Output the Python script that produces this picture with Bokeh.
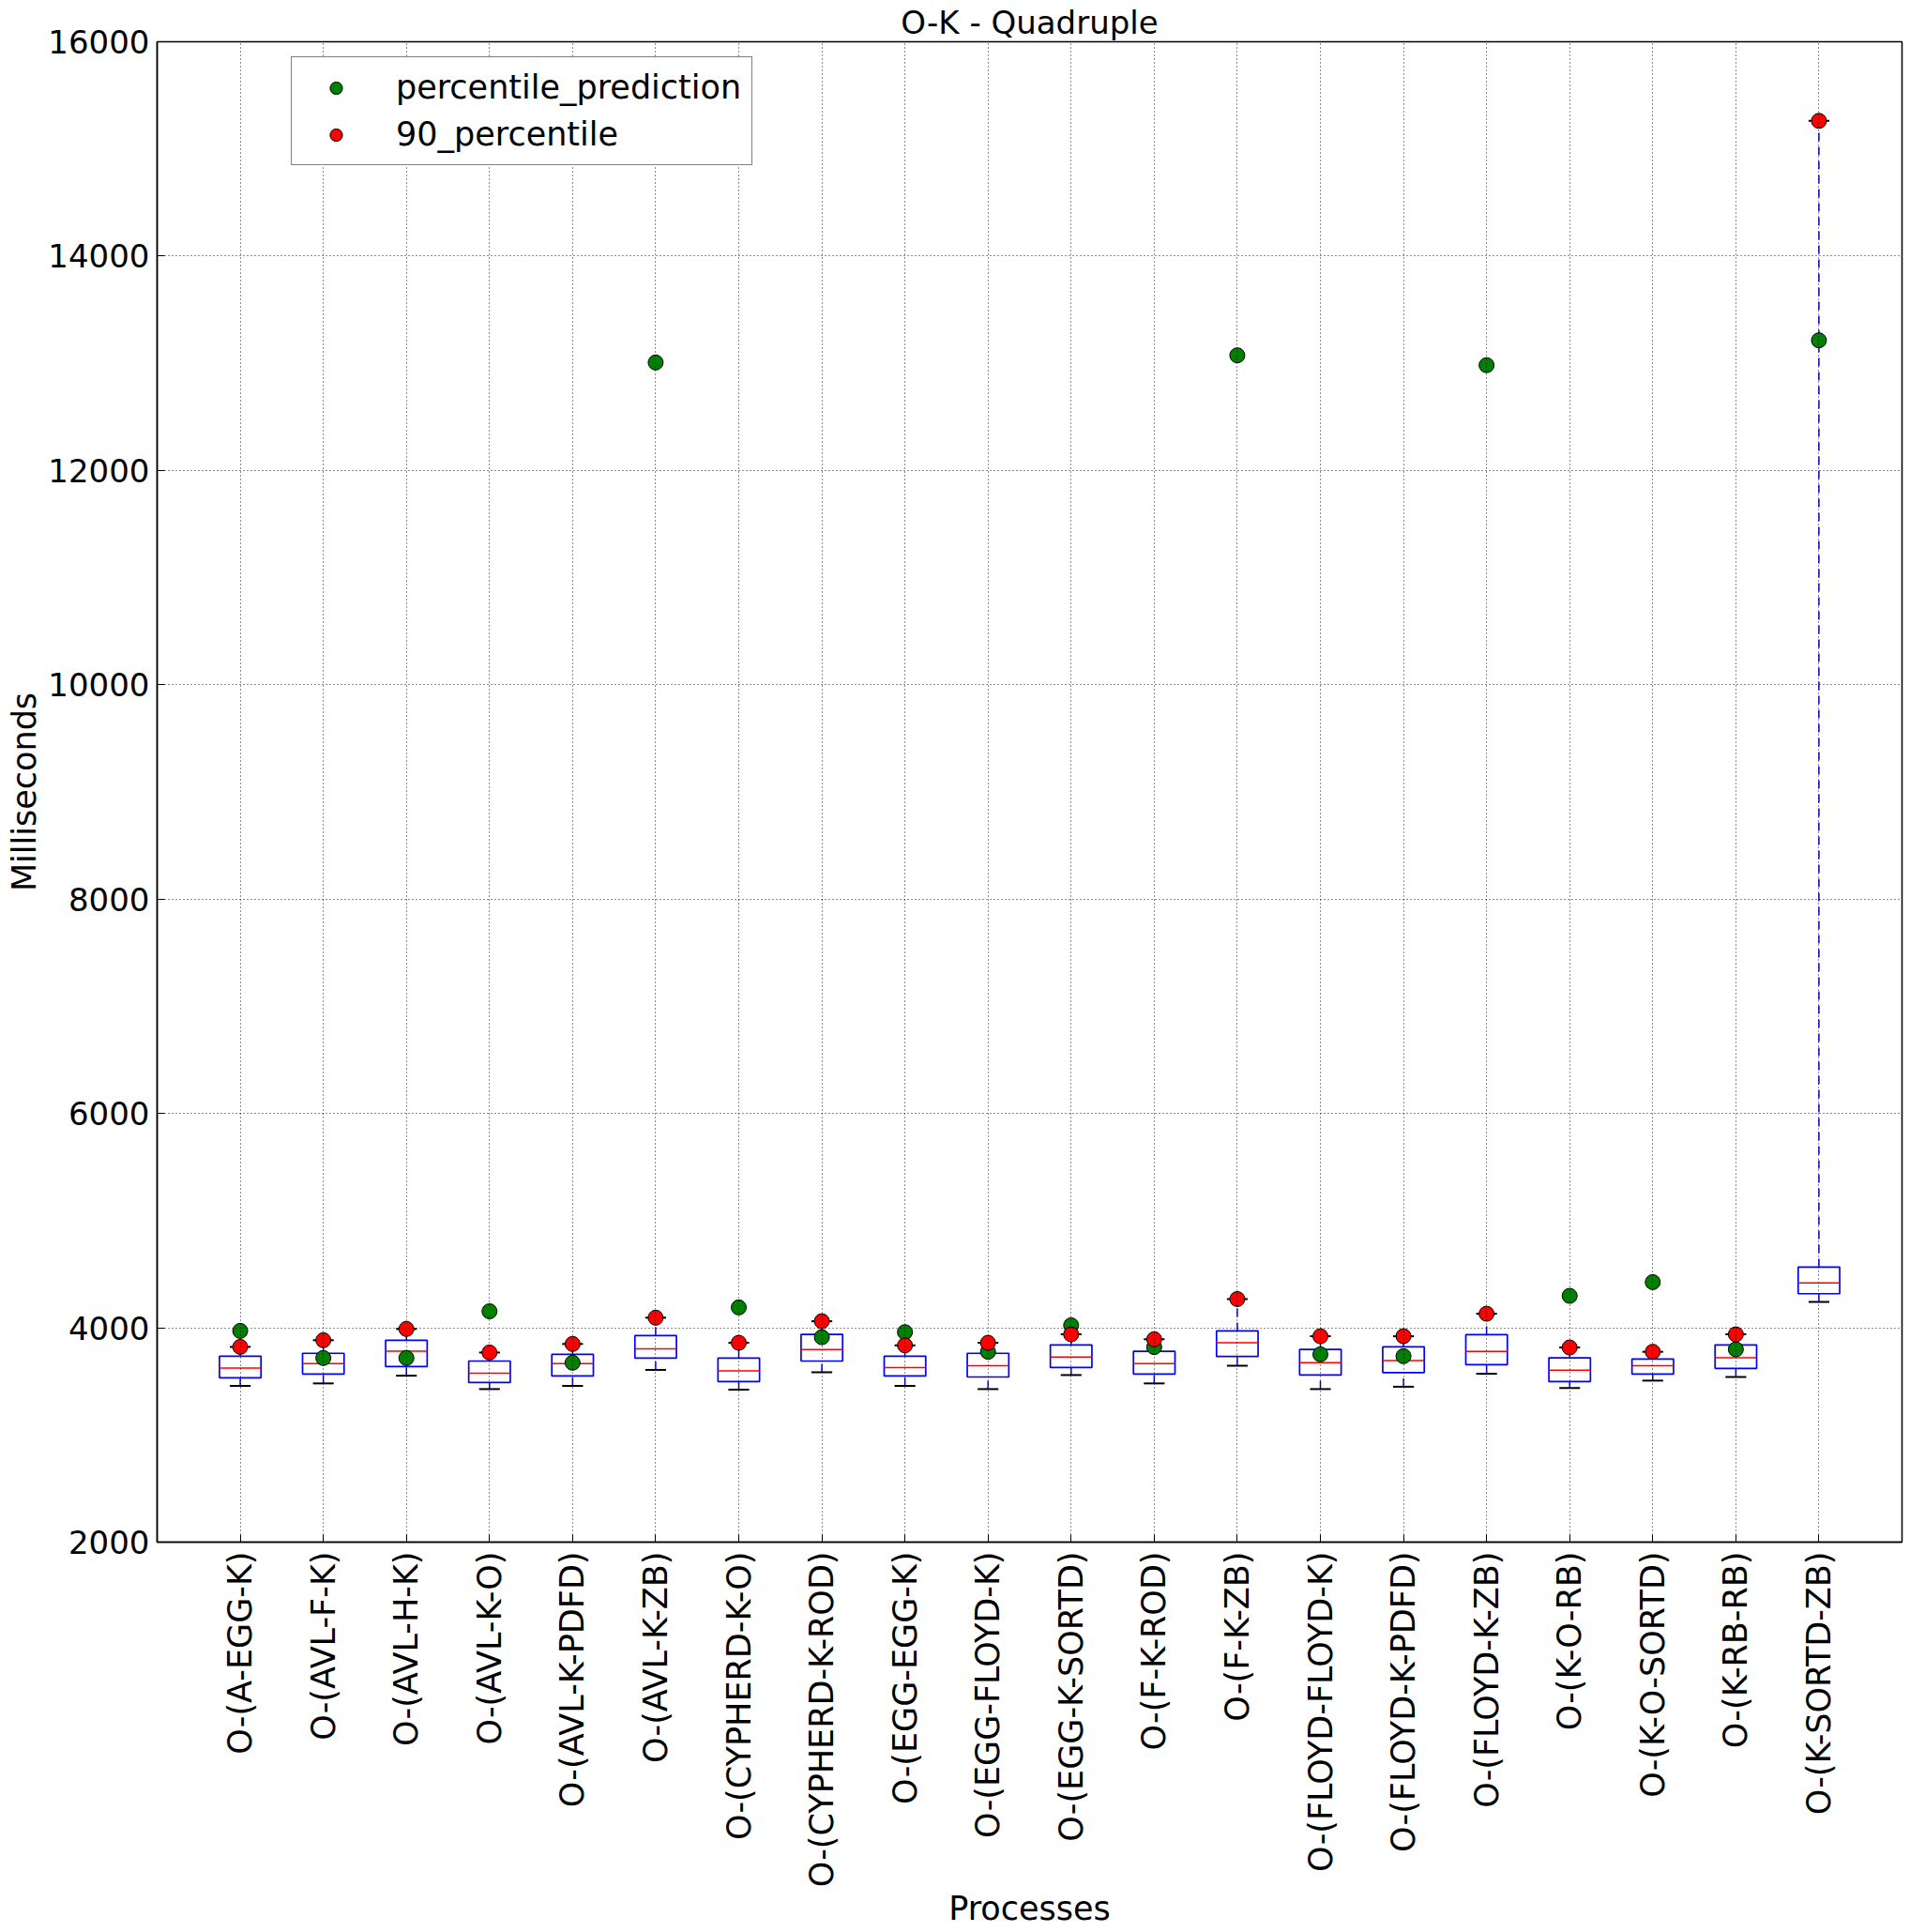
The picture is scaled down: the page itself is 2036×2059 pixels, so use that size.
import numpy as np
from bokeh.plotting import figure
from bokeh.models import Range1d, FixedTicker, Legend, LegendItem, ColumnDataSource
from bokeh.embed import file_html
from bokeh.resources import INLINE

categories = ["O-(A-EGG-K)", "O-(AVL-F-K)", "O-(AVL-H-K)", "O-(AVL-K-O)", "O-(AVL-K-PDFD)",
              "O-(AVL-K-ZB)", "O-(CYPHERD-K-O)", "O-(CYPHERD-K-ROD)", "O-(EGG-EGG-K)",
              "O-(EGG-FLOYD-K)", "O-(EGG-K-SORTD)", "O-(F-K-ROD)", "O-(F-K-ZB)",
              "O-(FLOYD-FLOYD-K)", "O-(FLOYD-K-PDFD)", "O-(FLOYD-K-ZB)", "O-(K-O-RB)",
              "O-(K-O-SORTD)", "O-(K-RB-RB)", "O-(K-SORTD-ZB)"]
whisker_low = [3458, 3481, 3553, 3428, 3458, 3607, 3423, 3585, 3458, 3428,
               3559, 3481, 3646, 3428, 3450, 3571, 3438, 3507, 3542, 4242]
q1 = [3534, 3569, 3638, 3489, 3550, 3718, 3499, 3690, 3550, 3541,
      3629, 3569, 3732, 3559, 3582, 3656, 3499, 3569, 3621, 4318]
median = [3624, 3665, 3781, 3576, 3665, 3804, 3598, 3796, 3629, 3646,
          3726, 3665, 3860, 3674, 3694, 3779, 3604, 3647, 3720, 4418]
q3 = [3735, 3762, 3884, 3690, 3752, 3927, 3718, 3939, 3735, 3762,
      3840, 3781, 3971, 3799, 3822, 3936, 3720, 3709, 3840, 4566]
p90 = [3822, 3884, 3989, 3769, 3849, 4094, 3860, 4061, 3836, 3860,
       3939, 3893, 4268, 3921, 3921, 4131, 3816, 3776, 3939, 15262]
prediction = [3971, 3718, 3718, 4154, 3674, 13007, 4190, 3912, 3959, 3776,
              4023, 3820, 13074, 3752, 3735, 12982, 4298, 4426, 3799, 13214]
y_ticks = [2000, 4000, 6000, 8000, 10000, 12000, 14000, 16000]

FONT = "DejaVu Sans"
pos = np.arange(1, len(categories) + 1)
box_w = 0.5
cap_w = 0.25

src = ColumnDataSource(dict(
    x=pos, lo=whisker_low, q1=q1, med=median, q3=q3, hi=p90, pred=prediction,
    bl=pos - box_w / 2, br=pos + box_w / 2,
    cl=pos - cap_w / 2, cr=pos + cap_w / 2,
))

p = figure(frame_width=1860, frame_height=1599,
           min_border_left=167, min_border_right=9, min_border_top=44, min_border_bottom=416,
           x_range=Range1d(0, 21), y_range=Range1d(2000, 16000),
           output_backend="svg", toolbar_location=None,
           title="O-K - Quadruple")

p.title.text_font = FONT
p.title.text_font_size = "34px"
p.title.text_font_style = "normal"
p.title.text_color = "black"
p.title.align = "center"
p.title.standoff = 2

# whiskers
p.segment(x0="x", x1="x", y0="lo", y1="q1", source=src, line_color="blue",
          line_width=1.5, line_dash="9 6")
p.segment(x0="x", x1="x", y0="q3", y1="hi", source=src, line_color="blue",
          line_width=1.5, line_dash="9 6")
# caps
p.segment(x0="cl", x1="cr", y0="lo", y1="lo", source=src, line_color="black", line_width=2)
p.segment(x0="cl", x1="cr", y0="hi", y1="hi", source=src, line_color="black", line_width=2)
# boxes
p.quad(left="bl", right="br", bottom="q1", top="q3", source=src,
       fill_color=None, line_color="blue", line_width=1.7)
# medians
p.segment(x0="bl", x1="br", y0="med", y1="med", source=src, line_color="red", line_width=1.5)

r_pred = p.scatter(x="x", y="pred", source=src, size=16, fill_color="#008000",
                   line_color="black", line_width=1)
r_p90 = p.scatter(x="x", y="hi", source=src, size=16, fill_color="#ff0000",
                  line_color="black", line_width=1)

# axes
p.xaxis.ticker = FixedTicker(ticks=list(pos))
p.xaxis.major_label_overrides = {int(i): c for i, c in zip(pos, categories)}
p.xaxis.major_label_orientation = np.pi / 2
p.yaxis.ticker = FixedTicker(ticks=y_ticks)
for ax in (p.xaxis, p.yaxis):
    ax.major_label_text_font = FONT
    ax.major_label_text_font_size = "35px"
    ax.major_label_text_color = "black"
    ax.axis_label_text_font = FONT
    ax.axis_label_text_font_size = "35px"
    ax.axis_label_text_font_style = "normal"
    ax.axis_label_text_color = "black"
    ax.axis_line_color = "black"
    ax.axis_line_width = 1.5
    ax.major_tick_in = 8
    ax.major_tick_out = 0
    ax.major_tick_line_color = "black"
    ax.minor_tick_line_color = None
p.yaxis.major_label_text_font_size = "34px"
p.xaxis.axis_label = "Processes"
p.yaxis.axis_label = "Milliseconds"
p.xaxis.major_label_standoff = 10
p.yaxis.major_label_standoff = 8
p.xaxis.axis_label_standoff = 0
p.yaxis.axis_label_standoff = 2

p.grid.grid_line_color = "black"
p.grid.grid_line_dash = "1 3"
p.grid.grid_line_width = 1
p.grid.grid_line_alpha = 0.9
p.grid.level = "guide"
p.xgrid.ticker = FixedTicker(ticks=list(pos))
p.ygrid.ticker = FixedTicker(ticks=y_ticks)

p.outline_line_color = "black"
p.outline_line_width = 1.5
p.background_fill_color = "white"
p.border_fill_color = "white"

legend = Legend(items=[LegendItem(label="percentile_prediction", renderers=[r_pred]),
                       LegendItem(label="90_percentile", renderers=[r_p90])],
                location=(143, 1467))
legend.label_text_font = FONT
legend.label_text_font_size = "35px"
legend.label_text_color = "black"
legend.label_height = 42
legend.glyph_height = 33
legend.glyph_width = 72
legend.label_standoff = 28
legend.spacing = 8
legend.padding = 11
legend.margin = 0
legend.border_line_color = "black"
legend.border_line_width = 1.5
legend.background_fill_color = "white"
legend.background_fill_alpha = 1
p.add_layout(legend)

open("out.html", "w").write(file_html(p, INLINE))
